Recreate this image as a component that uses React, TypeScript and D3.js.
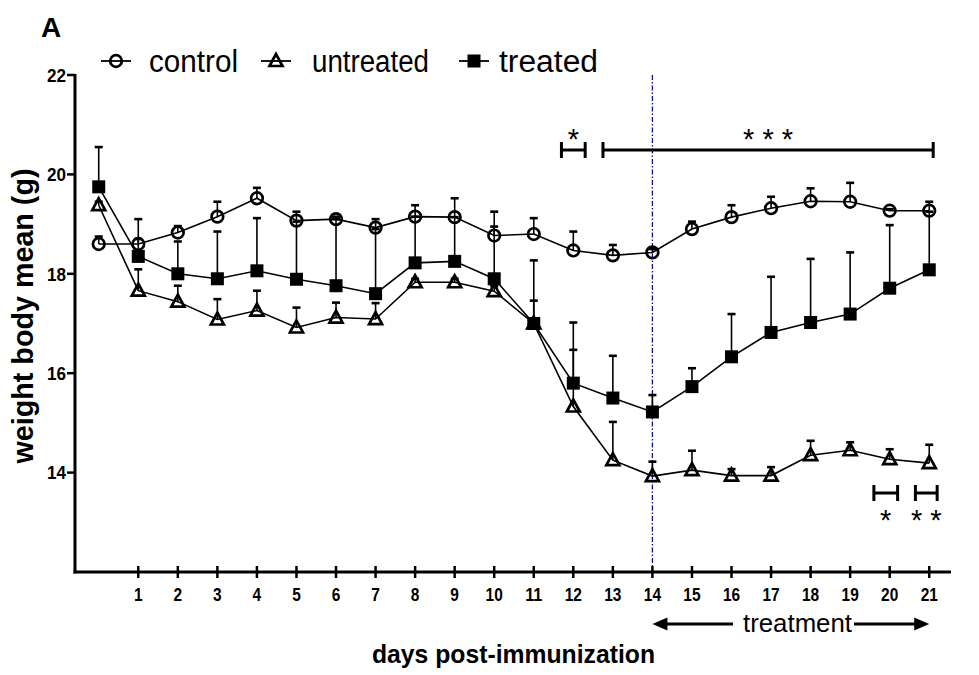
import React from "react";
import * as d3 from "d3";

const days = d3.range(0, 22);
const xTicks = d3.range(1, 22);
const yTicks = [14, 16, 18, 20, 22];

const control = [18.6, 18.6, 18.83, 19.15, 19.52, 19.07, 19.1, 18.93, 19.15, 19.14, 18.77, 18.8, 18.47, 18.37, 18.43, 18.9, 19.14, 19.32, 19.46, 19.45, 19.27, 19.27];
const controlErr = [0.15, 0.1, 0.13, 0.3, 0.21, 0.18, 0.05, 0.17, 0.23, 0.38, 0.18, 0.32, 0.38, 0.21, 0.07, 0.15, 0.24, 0.23, 0.26, 0.38, 0.03, 0.18];

const untreated = [19.38, 17.66, 17.44, 17.08, 17.26, 16.92, 17.12, 17.09, 17.83, 17.83, 17.65, 17.0, 15.33, 14.25, 13.93, 14.05, 13.94, 13.94, 14.35, 14.45, 14.27, 14.19];
const untreatedErr = [0.07, 0.43, 0.32, 0.41, 0.4, 0.4, 0.3, 0.32, 0.07, 0.07, 0.1, 0.46, 1.14, 0.77, 0.29, 0.39, 0.13, 0.17, 0.29, 0.16, 0.2, 0.37];

const treated = [19.75, 18.35, 18.0, 17.9, 18.06, 17.89, 17.76, 17.6, 18.22, 18.25, 17.9, 17.0, 15.8, 15.5, 15.22, 15.73, 16.33, 16.82, 17.02, 17.19, 17.71, 18.08];
const treatedErr = [0.8, 0.75, 0.65, 0.95, 1.06, 1.16, 1.34, 1.3, 0.93, 0.89, 1.35, 1.27, 1.22, 0.85, 0.34, 0.37, 0.86, 1.12, 1.28, 1.24, 1.27, 1.17];

const seriesNames = ["control", "untreated", "treated"];

// significance brackets (in day units) and labels
const sigTop = [
  { from: 11.7, to: 12.3, label: "*" },
  { from: 12.75, to: 21.1, label: "* * *" },
];
const sigBottom = [
  { from: 19.6, to: 20.2, label: "*" },
  { from: 20.65, to: 21.2, label: "* *" },
];
const treatmentStart = 14;
const treatmentEnd = 21;

const FONT = "'Liberation Sans', Arial, Helvetica, sans-serif";

const x = d3.scaleLinear().domain([-0.6, 21.55]).range([75, 951]);
const y = d3.scaleLinear().domain([12, 22]).range([572, 75]);

type Shape = "circle" | "triangle" | "square";

function Marker({ cx, cy, shape }: { cx: number; cy: number; shape: Shape }) {
  if (shape === "circle")
    return <circle cx={cx} cy={cy} r={5.8} fill="none" stroke="#000" strokeWidth={2.7} />;
  if (shape === "triangle") {
    const p = `${cx},${cy - 7} ${cx - 6.5},${cy + 5} ${cx + 6.5},${cy + 5}`;
    return <polygon points={p} fill="none" stroke="#000" strokeWidth={2.7} strokeLinejoin="miter" />;
  }
  return <rect x={cx - 6.5} y={cy - 6.5} width={13} height={13} fill="#000" />;
}

function Series({ values, errs, shape }: { values: number[]; errs: number[]; shape: Shape }) {
  const line = d3
    .line<number>()
    .x((_, i) => x(days[i]))
    .y((v) => y(v));
  return (
    <g>
      <path d={line(values) || ""} fill="none" stroke="#000" strokeWidth={1.6} />
      {values.map((v, i) => {
        const cx = x(days[i]);
        const top = y(v + errs[i]);
        return (
          <g key={"e" + i}>
            <line x1={cx} x2={cx} y1={y(v)} y2={top} stroke="#000" strokeWidth={1.6} />
            <line x1={cx - 4} x2={cx + 4} y1={top} y2={top} stroke="#000" strokeWidth={2.6} />
          </g>
        );
      })}
      {values.map((v, i) => (
        <Marker key={"m" + i} cx={x(days[i])} cy={y(v)} shape={shape} />
      ))}
    </g>
  );
}

function Bracket({ from, to, yy }: { from: number; to: number; yy: number }) {
  const x1 = x(from);
  const x2 = x(to);
  return (
    <g stroke="#000" strokeWidth={3}>
      <line x1={x1} x2={x2} y1={yy} y2={yy} />
      <line x1={x1} x2={x1} y1={yy - 8} y2={yy + 8} />
      <line x1={x2} x2={x2} y1={yy - 8} y2={yy + 8} />
    </g>
  );
}

export default function App() {
  const legend = [
    { name: seriesNames[0], shape: "circle" as Shape, mx: 116, tx: 149, tw: 89 },
    { name: seriesNames[1], shape: "triangle" as Shape, mx: 276, tx: 312, tw: 117 },
    { name: seriesNames[2], shape: "square" as Shape, mx: 474, tx: 499, tw: 99 },
  ];
  const ax0 = x(treatmentStart);
  const ax1 = x(treatmentEnd);
  const ay = 624;
  return (
    <svg
      width={979}
      height={675}
      style={{ position: "absolute", left: 0, top: 0, background: "#fff" }}
      fontFamily={FONT}
    >
      <rect width={979} height={675} fill="#fff" />
      <text x={41} y={37} fontSize={28} fontWeight="bold">A</text>

      {/* legend */}
      {legend.map((l) => (
        <g key={l.name}>
          <line x1={l.mx - 15} x2={l.mx + 15} y1={61} y2={61} stroke="#000" strokeWidth={1.8} />
          <Marker cx={l.mx} cy={61} shape={l.shape} />
          <text x={l.tx} y={72} fontSize={31} textLength={l.tw} lengthAdjust="spacingAndGlyphs">
            {l.name}
          </text>
        </g>
      ))}

      {/* treatment start line */}
      <line
        x1={x(treatmentStart)}
        x2={x(treatmentStart)}
        y1={y(22)}
        y2={y(12)}
        stroke="#10108a"
        strokeWidth={1.3}
        strokeDasharray="5,2,1.5,2"
      />

      {/* axes */}
      <line x1={75} x2={75} y1={y(22) - 1} y2={y(12) + 1.5} stroke="#000" strokeWidth={3} />
      <line x1={73.5} x2={951} y1={y(12)} y2={y(12)} stroke="#000" strokeWidth={3} />
      {yTicks.map((t) => (
        <g key={"y" + t}>
          <line x1={67} x2={75} y1={y(t)} y2={y(t)} stroke="#000" strokeWidth={2.5} />
          <text
            x={66}
            y={y(t)}
            dy="0.36em"
            textAnchor="end"
            fontSize={19}
            fontWeight="bold"
            textLength={String(t).length * 9.5}
            lengthAdjust="spacingAndGlyphs"
          >
            {t}
          </text>
        </g>
      ))}
      {xTicks.map((t) => (
        <g key={"x" + t}>
          <line x1={x(t)} x2={x(t)} y1={566} y2={578} stroke="#000" strokeWidth={2.5} />
          <text
            x={x(t)}
            y={601}
            textAnchor="middle"
            fontSize={19}
            fontWeight="bold"
            textLength={String(t).length * 8.6}
            lengthAdjust="spacingAndGlyphs"
          >
            {t}
          </text>
        </g>
      ))}

      {/* axis titles */}
      <text
        transform="translate(33,316) rotate(-90)"
        textAnchor="middle"
        fontSize={29}
        fontWeight="bold"
        textLength={295}
        lengthAdjust="spacingAndGlyphs"
      >
        weight body mean (g)
      </text>
      <text x={372} y={663} fontSize={25} fontWeight="bold" textLength={283} lengthAdjust="spacingAndGlyphs">
        days post-immunization
      </text>

      {/* treatment arrow */}
      <g>
        <line x1={ax0 + 12} x2={733} y1={ay} y2={ay} stroke="#000" strokeWidth={3} />
        <polygon points={`${ax0},${ay} ${ax0 + 15},${ay - 6.5} ${ax0 + 15},${ay + 6.5}`} fill="#000" />
        <line x1={854} x2={ax1 - 12} y1={ay} y2={ay} stroke="#000" strokeWidth={3} />
        <polygon points={`${ax1},${ay} ${ax1 - 15},${ay - 6.5} ${ax1 - 15},${ay + 6.5}`} fill="#000" />
        <text x={743} y={632} fontSize={25} textLength={109} lengthAdjust="spacingAndGlyphs">
          treatment
        </text>
      </g>

      {/* data */}
      <Series values={control} errs={controlErr} shape="circle" />
      <Series values={untreated} errs={untreatedErr} shape="triangle" />
      <Series values={treated} errs={treatedErr} shape="square" />

      {/* significance */}
      {sigTop.map((s, i) => (
        <g key={"st" + i}>
          <Bracket from={s.from} to={s.to} yy={150} />
          <text x={(x(s.from) + x(s.to)) / 2} y={149} textAnchor="middle" fontSize={29}>
            {s.label}
          </text>
        </g>
      ))}
      {sigBottom.map((s, i) => (
        <g key={"sb" + i}>
          <Bracket from={s.from} to={s.to} yy={493} />
          <text x={(x(s.from) + x(s.to)) / 2} y={530} textAnchor="middle" fontSize={29}>
            {s.label}
          </text>
        </g>
      ))}
    </svg>
  );
}
